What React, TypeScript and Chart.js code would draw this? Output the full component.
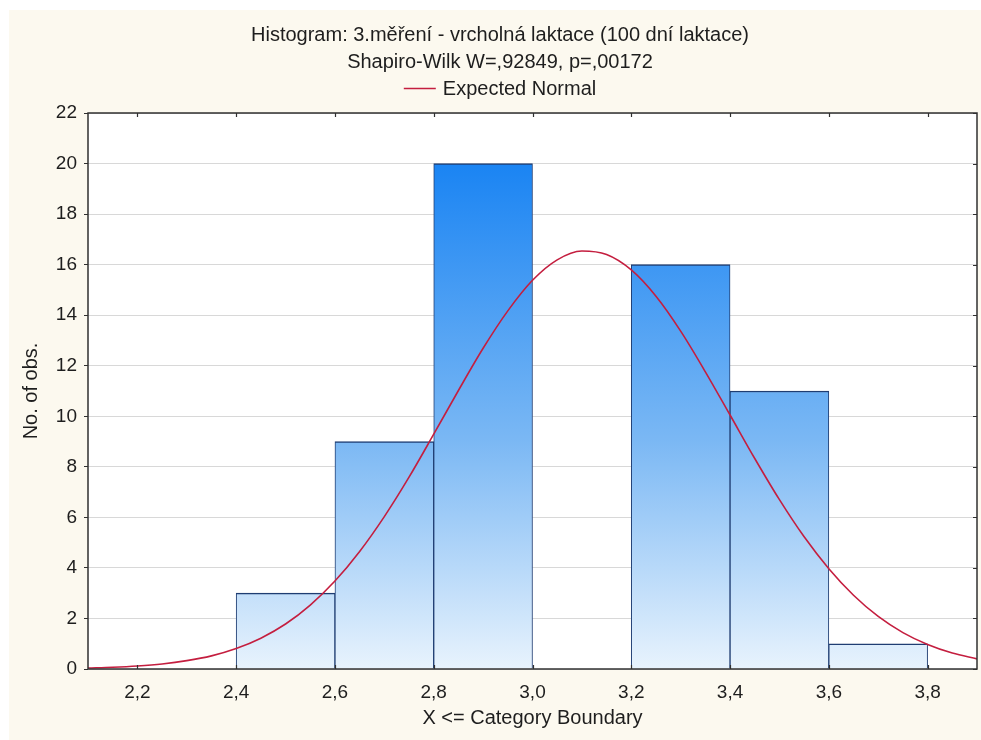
import { useEffect, useRef } from 'react';
import { Chart, registerables } from 'chart.js';

Chart.register(...registerables);

// Histogram bins (centre of each 0.2-wide class) and counts
const binCenters = [2.5, 2.7, 2.9, 3.1, 3.3, 3.5, 3.7];
const binCounts = [3, 9, 20, 0, 16, 11, 1];

// Expected normal curve, sampled every 0.05
const normalX = [
  2.1, 2.15, 2.2, 2.25, 2.3, 2.35, 2.4, 2.45, 2.5, 2.55, 2.6, 2.65, 2.7, 2.75,
  2.8, 2.85, 2.9, 2.95, 3.0, 3.05, 3.1, 3.15, 3.2, 3.25, 3.3, 3.35, 3.4, 3.45,
  3.5, 3.55, 3.6, 3.65, 3.7, 3.75, 3.8, 3.85, 3.9,
];
const normalY = [
  0.04, 0.07, 0.12, 0.2, 0.33, 0.52, 0.81, 1.22, 1.78, 2.53, 3.48, 4.65, 6.03, 7.59,
  9.29, 11.02, 12.69, 14.17, 15.38, 16.19, 16.54, 16.4, 15.79, 14.75, 13.37, 11.76, 10.05, 8.33,
  6.7, 5.23, 3.97, 2.92, 2.08, 1.44, 0.97, 0.63, 0.4,
];

const xTickValues = [2.2, 2.4, 2.6, 2.8, 3.0, 3.2, 3.4, 3.6, 3.8];
const yTickValues = [0, 2, 4, 6, 8, 10, 12, 14, 16, 18, 20, 22];

const titleLines = [
  'Histogram: 3.měření - vrcholná laktace (100 dní laktace)',
  'Shapiro-Wilk W=,92849, p=,00172',
];
const legendLabel = 'Expected Normal';
const xAxisTitle = 'X <= Category Boundary';
const yAxisTitle = 'No. of obs.';

const FONT = "'Liberation Sans', Arial, sans-serif";
const TEXT = '#1e1e1e';
const CURVE = '#c41e3f';
const FRAME = '#303030';

const decorations = {
  id: 'decorations',
  beforeDraw(chart: any) {
    const { ctx, width, height, chartArea: a } = chart;
    ctx.save();
    ctx.fillStyle = '#ffffff';
    ctx.fillRect(0, 0, width, height);
    ctx.fillStyle = '#fcf9ef';
    ctx.fillRect(9, 10, width - 9, height - 10);
    ctx.fillStyle = '#ffffff';
    ctx.fillRect(a.left, a.top, a.right - a.left, a.bottom - a.top);
    ctx.restore();
  },
  afterDraw(chart: any) {
    const { ctx, chartArea: a, scales } = chart;
    ctx.save();
    // frame around the plot
    ctx.strokeStyle = FRAME;
    ctx.lineWidth = 1.5;
    ctx.strokeRect(a.left, a.top, a.right - a.left, a.bottom - a.top);
    // inward tick marks on top, bottom and right edges
    ctx.lineWidth = 1.2;
    ctx.beginPath();
    xTickValues.forEach((v) => {
      const x = Math.round(scales.x.getPixelForValue(v)) + 0.5;
      ctx.moveTo(x, a.top);
      ctx.lineTo(x, a.top + 4);
      ctx.moveTo(x, a.bottom);
      ctx.lineTo(x, a.bottom - 4);
    });
    yTickValues.forEach((v) => {
      const y = Math.round(scales.y.getPixelForValue(v)) + 0.5;
      ctx.moveTo(a.right, y);
      ctx.lineTo(a.right - 4, y);
    });
    ctx.stroke();

    // titles
    ctx.fillStyle = TEXT;
    ctx.font = `20px ${FONT}`;
    ctx.textAlign = 'center';
    ctx.textBaseline = 'middle';
    const cx = 500;
    ctx.fillText(titleLines[0], cx, 35);
    ctx.fillText(titleLines[1], cx, 62);

    // legend
    const tw = ctx.measureText(legendLabel).width;
    const total = 32 + 7 + tw;
    const lx = cx - total / 2;
    ctx.strokeStyle = CURVE;
    ctx.lineWidth = 1.5;
    ctx.beginPath();
    ctx.moveTo(lx, 88.5);
    ctx.lineTo(lx + 32, 88.5);
    ctx.stroke();
    ctx.textAlign = 'left';
    ctx.fillText(legendLabel, lx + 39, 89);

    // axis titles
    ctx.textAlign = 'center';
    ctx.fillText(xAxisTitle, (a.left + a.right) / 2, 718);
    ctx.translate(31, (a.top + a.bottom) / 2);
    ctx.rotate(-Math.PI / 2);
    ctx.fillText(yAxisTitle, 0, 0);
    ctx.restore();
  },
};

export default function App() {
  const canvasRef = useRef<HTMLCanvasElement | null>(null);

  useEffect(() => {
    document.body.style.margin = '0';
    const canvas = canvasRef.current;
    if (!canvas) return;

    const barFill = (ctx: any) => {
      const chart = ctx.chart;
      const y = chart.scales?.y;
      if (!chart.chartArea || !y) return '#7bb8f4';
      const g = chart.ctx.createLinearGradient(0, y.getPixelForValue(20), 0, y.getPixelForValue(0));
      g.addColorStop(0, '#1a84f3');
      g.addColorStop(0.55, '#7bb8f4');
      g.addColorStop(1, '#e8f3fd');
      return g;
    };

    const chart = new Chart(canvas, {
      type: 'bar',
      data: {
        datasets: [
          {
            type: 'line',
            label: legendLabel,
            data: normalX.map((x, i) => ({ x, y: normalY[i] })),
            borderColor: CURVE,
            borderWidth: 1.6,
            pointRadius: 0,
            tension: 0.4,
            cubicInterpolationMode: 'monotone',
            order: 0,
          } as any,
          {
            type: 'bar',
            label: 'Counts',
            data: binCenters.map((x, i) => ({ x, y: binCounts[i] })),
            backgroundColor: barFill,
            borderColor: '#1f3d72',
            borderWidth: { left: 1, right: 1, top: 1.5, bottom: 0 },
            borderSkipped: false,
            barPercentage: 1,
            categoryPercentage: 1,
            order: 1,
          } as any,
        ],
      },
      options: {
        responsive: false,
        animation: false,
        layout: { padding: { top: 113, right: 4, bottom: 0, left: 0 } },
        plugins: {
          legend: { display: false },
          title: { display: false },
          tooltip: { enabled: false },
        },
        scales: {
          x: {
            type: 'linear',
            offset: false,
            min: 2.1,
            max: 3.9,
            grid: { display: false, offset: false },
            border: { display: false },
            afterBuildTicks: (s: any) => {
              s.ticks = xTickValues.map((value) => ({ value }));
            },
            afterFit: (s: any) => {
              s.height = 71;
            },
            ticks: {
              autoSkip: false,
              maxRotation: 0,
              padding: 4,
              color: TEXT,
              font: { family: FONT, size: 19 },
              callback: (v: any) => Number(v).toFixed(1).replace('.', ','),
            },
          },
          y: {
            type: 'linear',
            min: 0,
            max: 22,
            grid: {
              color: '#d8d8d8',
              lineWidth: 1,
              tickLength: 4,
              tickColor: FRAME,
            },
            border: { display: false },
            afterBuildTicks: (s: any) => {
              s.ticks = yTickValues.map((value) => ({ value }));
            },
            afterFit: (s: any) => {
              s.width = 88;
            },
            ticks: {
              padding: 7,
              color: TEXT,
              font: { family: FONT, size: 19 },
            },
          },
        },
      },
      plugins: [decorations],
    });

    return () => chart.destroy();
  }, []);

  return (
    <div style={{ width: 981, height: 740 }}>
      <canvas ref={canvasRef} width={981} height={740} style={{ display: 'block' }} />
    </div>
  );
}
